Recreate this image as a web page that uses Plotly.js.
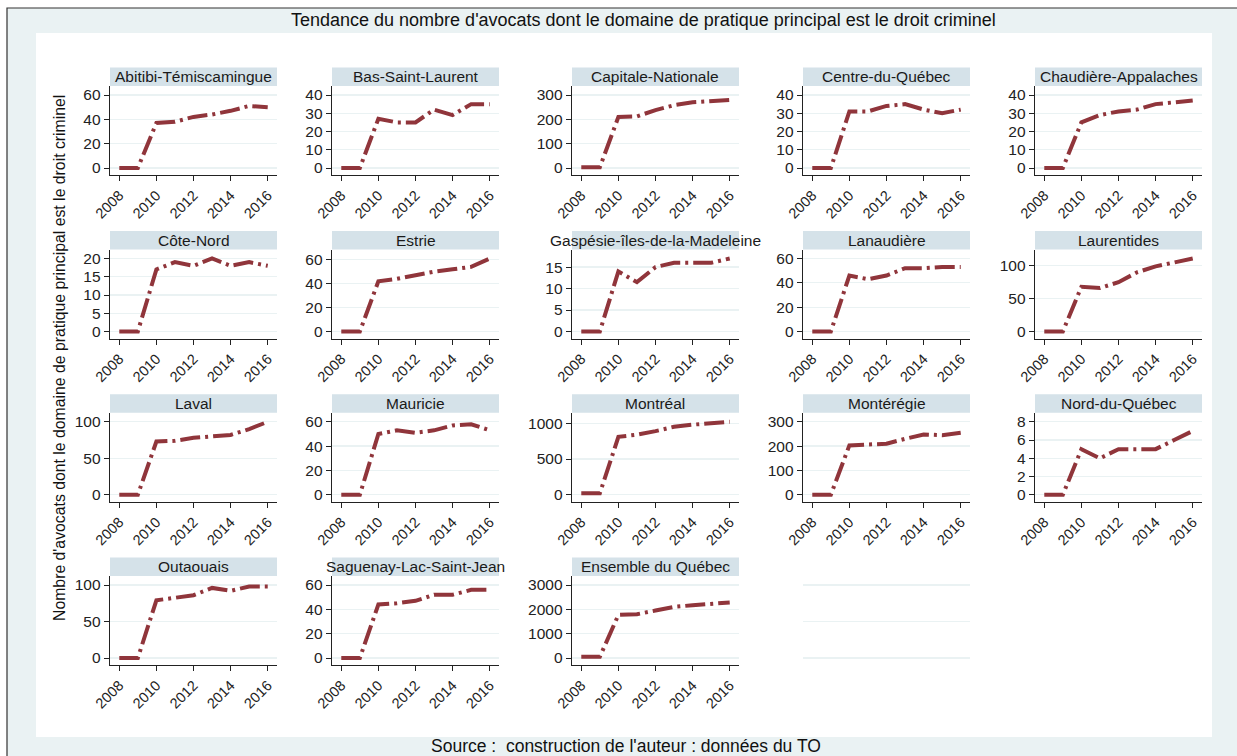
<!DOCTYPE html>
<html><head><meta charset="utf-8">
<script src="https://cdn.plot.ly/plotly-3.0.1.min.js"></script>
<style>html,body{margin:0;padding:0;background:#fff}</style>
</head><body><div id="chart" style="width:1237px;height:756px"></div>
<script>
const years = [2008, 2009, 2010, 2011, 2012, 2013, 2014, 2015, 2016];
const xTicks = [2008, 2010, 2012, 2014, 2016];

const regions = ["Abitibi-Témiscamingue", "Bas-Saint-Laurent", "Capitale-Nationale", "Centre-du-Québec", "Chaudière-Appalaches",
  "Côte-Nord", "Estrie", "Gaspésie-îles-de-la-Madeleine", "Lanaudière", "Laurentides",
  "Laval", "Mauricie", "Montréal", "Montérégie", "Nord-du-Québec",
  "Outaouais", "Saguenay-Lac-Saint-Jean", "Ensemble du Québec"];

const abitibi     = [0, 0, 37, 38, 42, 44, 47, 51, 50];
const basStLaurent= [0, 0, 27, 25, 25, 32, 29, 35, 35];
const capitale    = [3, 3, 210, 212, 238, 258, 270, 275, 280];
const centre      = [0, 0, 31, 31, 34, 35, 32, 30, 32];
const chaudiere   = [0, 0, 25, 29, 31, 32, 35, 36, 37];
const coteNord    = [0, 0, 17, 19, 18, 20, 18, 19, 18];
const estrie      = [0, 0, 42, 44, 47, 50, 52, 54, 61];
const gaspesie    = [0, 0, 14, 11.5, 15, 16, 16, 16, 17];
const lanaudiere  = [0, 0, 46, 43, 46, 52, 52, 53, 53];
const laurentides = [0, 0, 68, 66, 75, 90, 99, 105, 111];
const laval       = [0, 0, 73, 74, 78, 80, 82, 90, 100];
const mauricie    = [0, 0, 50, 53, 51, 53, 57, 58, 53];
const montreal    = [20, 20, 810, 840, 890, 950, 980, 1000, 1020];
const monteregie  = [0, 0, 203, 205, 210, 230, 248, 245, 255];
const nordQuebec  = [0, 0, 5, 4, 5, 5, 5, 6, 7];
const outaouais   = [0, 0, 79, 82, 86, 96, 92, 98, 98];
const saguenay    = [0, 0, 44, 45, 47, 52, 52, 56, 56];
const ensemble    = [50, 50, 1770, 1800, 1950, 2100, 2170, 2230, 2280];

const seriesValues = [abitibi, basStLaurent, capitale, centre, chaudiere, coteNord, estrie, gaspesie, lanaudiere, laurentides,
  laval, mauricie, montreal, monteregie, nordQuebec, outaouais, saguenay, ensemble];

const yTicks = [
  [0, 20, 40, 60], [0, 10, 20, 30, 40], [0, 100, 200, 300], [0, 10, 20, 30, 40], [0, 10, 20, 30, 40],
  [0, 5, 10, 15, 20], [0, 20, 40, 60], [0, 5, 10, 15], [0, 20, 40, 60], [0, 50, 100],
  [0, 50, 100], [0, 20, 40, 60], [0, 500, 1000], [0, 100, 200, 300], [0, 2, 4, 6, 8],
  [0, 50, 100], [0, 20, 40, 60], [0, 1000, 2000, 3000]];

const W = 1237, H = 756;
const colL = [110, 332, 572, 803, 1035];
const panelW = 167;
const rowTop = [86, 249.5, 412.8, 576];
const panelH = 89;
const font = "Liberation Sans, Arial, sans-serif";
const lineColor = "#90353B";
const gridColor = "#EAF2F3";
const stripColor = "#D5E2E9";

const px = x => x / W;
const py = y => 1 - y / H;

const traces = [];
const layout = {
  width: W, height: H,
  margin: {l: 0, r: 0, t: 0, b: 0},
  paper_bgcolor: "#ffffff",
  plot_bgcolor: "rgba(0,0,0,0)",
  showlegend: false,
  font: {family: font, color: "#1a1a1a"},
  shapes: [
    {type: "rect", xref: "paper", yref: "paper", x0: px(7), x1: px(1240), y0: py(760), y1: py(8),
     fillcolor: "#EAF2F3", line: {color: "#333", width: 1.2}, layer: "below"},
    {type: "rect", xref: "paper", yref: "paper", x0: px(36), x1: px(1212), y0: py(737), y1: py(33),
     fillcolor: "#ffffff", line: {width: 0}, layer: "below"}
  ],
  annotations: [
    {text: "Tendance du nombre d'avocats dont le domaine de pratique principal est le droit criminel",
     xref: "paper", yref: "paper", x: px(643), y: py(20), showarrow: false, xanchor: "center", yanchor: "middle",
     font: {size: 18, family: font, color: "#111"}},
    {text: "Source :  construction de l'auteur : données du TO",
     xref: "paper", yref: "paper", x: px(626), y: py(745.5), showarrow: false, xanchor: "center", yanchor: "middle",
     font: {size: 17.5, family: font, color: "#111"}},
    {text: "Nombre d'avocats dont le domaine de pratique principal est le droit criminel",
     xref: "paper", yref: "paper", x: px(60), y: py(358), showarrow: false, textangle: -90, xanchor: "center", yanchor: "middle",
     font: {size: 15.8, family: font, color: "#111"}}
  ]
};

function axisIds(i) {
  const n = i + 1;
  return {xa: n === 1 ? "xaxis" : "xaxis" + n, ya: n === 1 ? "yaxis" : "yaxis" + n,
          x: n === 1 ? "x" : "x" + n, y: n === 1 ? "y" : "y" + n};
}

function yRange(vals, ticks) {
  const m = Math.max(Math.max(...vals), ticks[ticks.length - 1]);
  return [-m * 7 / 73, m * (1 + 9 / 73)];
}

regions.forEach((name, i) => {
  const r = Math.floor(i / 5), c = i % 5;
  const id = axisIds(i);
  const L = colL[c], T = rowTop[r];
  traces.push({
    x: years, y: seriesValues[i], xaxis: id.x, yaxis: id.y, type: "scatter", mode: "lines",
    line: {color: lineColor, width: 4, dash: "20px,5px,3px,5px"}, hoverinfo: "skip"
  });
  layout[id.xa] = {
    domain: [px(L), px(L + panelW)], anchor: id.y, range: [2007.5, 2016.5],
    tickvals: xTicks, ticktext: xTicks.map(String), tickangle: -45,
    ticks: "outside", ticklen: 5, tickcolor: "#222", showgrid: false, zeroline: false,
    showline: true, linecolor: "#222", linewidth: 1.3,
    tickfont: {size: 14.5, family: font, color: "#222"}, fixedrange: true
  };
  layout[id.ya] = {
    domain: [py(T + panelH), py(T)], anchor: id.x, range: yRange(seriesValues[i], yTicks[i]),
    tickvals: yTicks[i], ticktext: yTicks[i].map(String),
    ticks: "outside", ticklen: 5, tickcolor: "#222", showgrid: true, gridcolor: gridColor, gridwidth: 1.3,
    zeroline: false, showline: true, linecolor: "#222", linewidth: 1.3,
    tickfont: {size: 15.5, family: font, color: "#222"}, fixedrange: true
  };
  layout.shapes.push({type: "rect", xref: "paper", yref: "paper",
    x0: px(L), x1: px(L + panelW), y0: py(T), y1: py(T - 18.5),
    fillcolor: stripColor, line: {width: 0}, layer: "below"});
  layout.annotations.push({text: name, xref: "paper", yref: "paper",
    x: px(L + panelW / 2), y: py(T - 9.2), showarrow: false, xanchor: "center", yanchor: "middle",
    font: {size: 15.5, family: font, color: "#1a1a1a"}});
});

// empty cell of the grid (row 4, column 4): gridlines only
(function () {
  const i = regions.length;
  const id = axisIds(i);
  const L = colL[3], T = rowTop[3];
  traces.push({x: [], y: [], xaxis: id.x, yaxis: id.y, type: "scatter", mode: "lines", hoverinfo: "skip"});
  layout[id.xa] = {domain: [px(L), px(L + panelW)], anchor: id.y, range: [2007.5, 2016.5],
    showgrid: false, zeroline: false, showline: false, showticklabels: false, ticks: "", fixedrange: true};
  layout[id.ya] = {domain: [py(T + panelH), py(T)], anchor: id.x, range: yRange(outaouais, yTicks[15]),
    tickvals: yTicks[15], showgrid: true, gridcolor: gridColor, gridwidth: 1.3, zeroline: false,
    showline: false, showticklabels: false, ticks: "", fixedrange: true};
})();

Plotly.newPlot("chart", traces, layout, {displayModeBar: false, staticPlot: true});
</script>
</body></html>
